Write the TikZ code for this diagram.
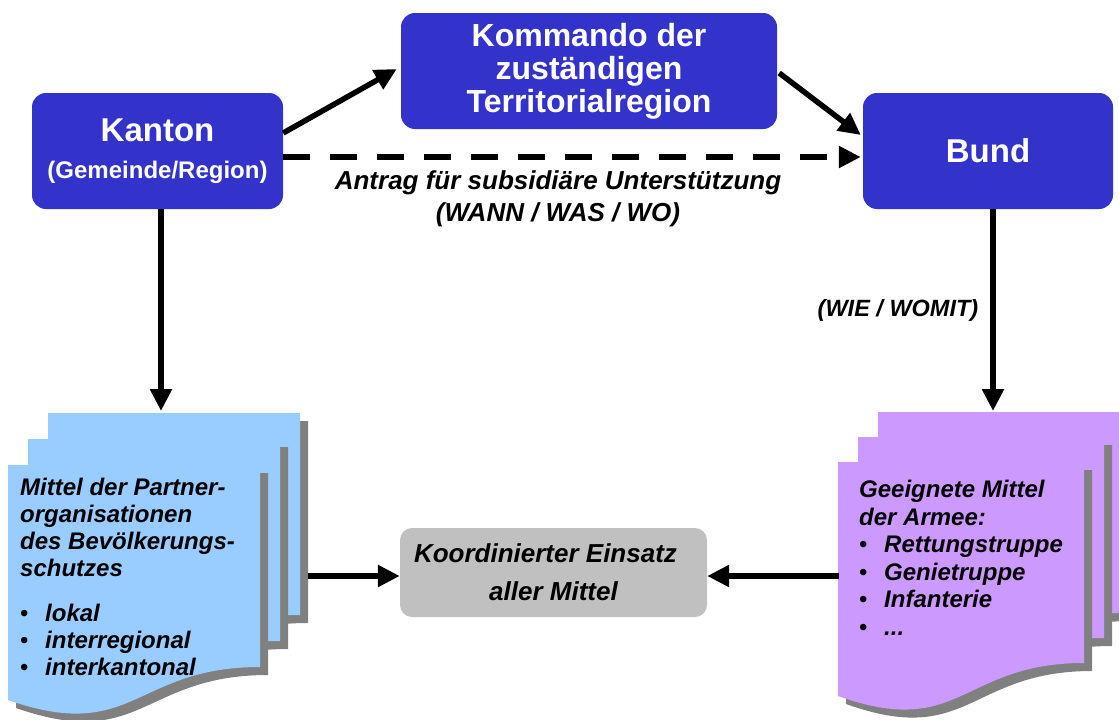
\documentclass[tikz,border=0pt]{standalone}
\usepackage{fontspec}
\setmainfont{Liberation Sans}
\usetikzlibrary{arrows.meta,calc}
\definecolor{boxblue}{HTML}{3333CC}
\definecolor{pageblue}{HTML}{99CCFF}
\definecolor{pagelilac}{HTML}{CC99FF}
\definecolor{boxgray}{HTML}{C0C0C0}
\definecolor{pageshade}{HTML}{808080}
\newcommand\pkt{\makebox[25pt][l]{\upshape\mdseries\textbullet}}

\begin{document}
\begin{tikzpicture}[x=1pt,y=-1pt,
bluebox/.style={rounded corners=14pt,fill=boxblue,text=white,align=center,inner sep=0pt},
flow/.style={line width=5.5pt,-{Triangle[length=22pt,width=21pt]}},
lbl/.style={inner sep=0pt,align=center,font=\bfseries\itshape\fontsize{26}{32}\selectfont},
pagetext/.style={anchor=north west,inner sep=0pt,align=left}]
\useasboundingbox(0,0)rectangle(1119,720);\clip(0,0)rectangle(1119,720);
\foreach\d in{2,1,0}{\begin{scope}[shift={(8+20*\d,465-26*\d)}]\fill[pageshade](8,8)--(260,8)--(260,210)..controls(134,210)and(134,287)..(8,243)--cycle;\fill[pageblue](0,0)--(252,0)--(252,202)..controls(126,202)and(126,279)..(0,235)--cycle;\end{scope}}
\foreach\d in{2,1,0}{\begin{scope}[shift={(838+20*\d,462-25*\d)}]\fill[pageshade](8,8)--(254,8)--(254,209)..controls(131,209)and(131,286)..(8,242)--cycle;\fill[pagelilac](0,0)--(246,0)--(246,201)..controls(123,201)and(123,278)..(0,234)--cycle;\end{scope}}
\node[bluebox,minimum width=251pt,minimum height=116pt,font=\bfseries\fontsize{24}{37}\selectfont](kanton)at(157.5,151){{\fontsize{33}{37}\selectfont Kanton}\\(Gemeinde/Region)};
\node[bluebox,minimum width=376pt,minimum height=116pt,font=\bfseries\fontsize{32}{33}\selectfont](kommando)at(589,71){Kommando der\\zuständigen\\Territorialregion};
\node[bluebox,minimum width=250pt,minimum height=116pt,font=\bfseries\fontsize{33}{37}\selectfont](bund)at(988,151){Bund};
\node[fill=boxgray,rounded corners=12pt,minimum width=307pt,minimum height=89pt,inner sep=0pt,align=center,font=\bfseries\itshape\fontsize{26}{38}\selectfont](einsatz)at(553.5,572.5){Koordinierter Einsatz\hspace*{16pt}\\aller Mittel};
\node[lbl](antrag)at(558,199){Antrag für subsidiäre Unterstützung\\(WANN / WAS / WO)};
\node[pagetext,font=\bfseries\itshape\fontsize{24}{27}\selectfont](partner)at(20,478){Mittel der Partner-\\organisationen\\des Bevölkerungs-\\schutzes\\[18pt]\pkt lokal\\\pkt interregional\\\pkt interkantonal};
\node[pagetext,font=\bfseries\itshape\fontsize{24}{27.5}\selectfont](armee)at(859,480){Geeignete Mittel\\der Armee:\\\pkt Rettungstruppe\\\pkt Genietruppe\\\pkt Infanterie\\\pkt ...};
\coordinate(ltop)at(161,411);\coordinate(rtop)at(993,411);\coordinate(lout)at(308,576);\coordinate(rin)at(839,576);
\draw[flow]([yshift=18pt]kanton.east)--([xshift=-4pt,yshift=2pt]kommando.west);
\draw[flow]([xshift=2pt,yshift=-2pt]kommando.east)--([xshift=-2pt,yshift=16pt]bund.west);
\draw[flow,dash pattern=on 27pt off 20pt]([yshift=-6pt]kanton.east)--([xshift=-2pt,yshift=-6pt]bund.west);
\draw[flow]([xshift=3.5pt]kanton.south)--(ltop);
\draw[flow]([xshift=5pt]bund.south)--node(wie)[inner sep=0pt,left=12pt,font=\bfseries\itshape\fontsize{23.5}{28}\selectfont]{(WIE / WOMIT)}(rtop);
\draw[flow](lout)--([yshift=-3.5pt]einsatz.west);\draw[flow](rin)--([yshift=-3.5pt]einsatz.east);
\end{tikzpicture}
\end{document}
